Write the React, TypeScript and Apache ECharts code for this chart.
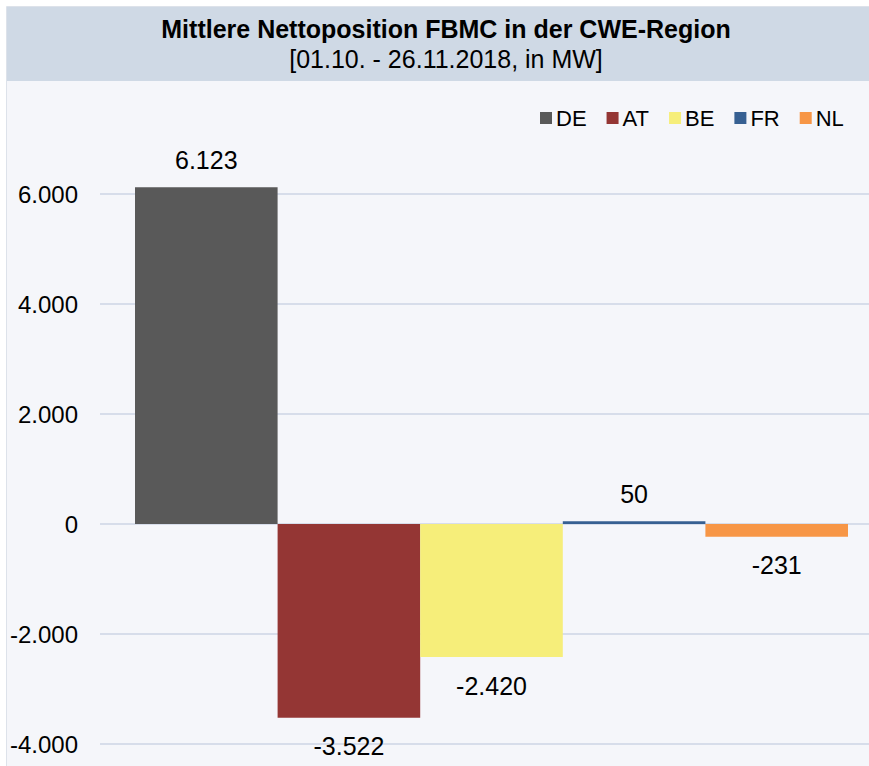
import React, { useEffect, useRef } from "react";
import * as echarts from "echarts";

const seriesNames = ["DE", "AT", "BE", "FR", "NL"];
const seriesValues = [6123, -3522, -2420, 50, -231];
const seriesColors = ["#595959", "#943634", "#f6ee7a", "#376092", "#f79646"];
const categories = [""];
const yMin = -4000;
const yMax = 6000;
const yInterval = 2000;
const titleText = "Mittlere Nettoposition FBMC in der CWE-Region";
const subtitleText = "[01.10. - 26.11.2018, in MW]";

const fmt = (v: number) => {
  const s = String(Math.abs(Math.round(v))).replace(/\B(?=(\d{3})+(?!\d))/g, ".");
  return (v < 0 ? "-" : "") + s;
};

const FONT = "'Liberation Sans', Arial, sans-serif";

export default function App() {
  const ref = useRef<HTMLDivElement>(null);
  useEffect(() => {
    if (!ref.current) return;
    const chart = echarts.init(ref.current, undefined, { renderer: "svg" });
    chart.setOption({
      animation: false,
      textStyle: { fontFamily: FONT },
      graphic: [
        {
          type: "rect",
          z: -10,
          silent: true,
          shape: { x: 6.5, y: 6.5, width: 900, height: 900 },
          style: { fill: "#f5f6fa", stroke: "#dde2ea", lineWidth: 1 },
        },
        {
          type: "rect",
          z: -9,
          silent: true,
          shape: { x: 7, y: 7, width: 900, height: 74 },
          style: { fill: "#cfd9e5" },
        },
        {
          type: "text",
          z: 10,
          x: 446,
          y: 29,
          style: {
            text: titleText,
            fontFamily: FONT,
            fontSize: 25,
            fontWeight: "bold",
            fill: "#000",
            align: "center",
            verticalAlign: "middle",
          },
        },
        {
          type: "text",
          z: 10,
          x: 446,
          y: 59,
          style: {
            text: subtitleText,
            fontFamily: FONT,
            fontSize: 25,
            fill: "#000",
            align: "center",
            verticalAlign: "middle",
          },
        },
      ],
      legend: {
        data: seriesNames,
        left: 535,
        top: 102,
        itemWidth: 12,
        itemHeight: 12,
        itemGap: 20,
        icon: "rect",
        textStyle: { fontSize: 22, color: "#000", fontFamily: FONT, padding: [0, 0, 0, -1] },
      },
      grid: { left: 100, top: 194, width: 783, height: 550, containLabel: false },
      xAxis: {
        type: "category",
        data: categories,
        show: false,
      },
      yAxis: {
        type: "value",
        min: yMin,
        max: yMax,
        interval: yInterval,
        axisLine: { show: false },
        axisTick: { show: false },
        axisLabel: {
          formatter: (v: number) => fmt(v),
          fontSize: 24,
          color: "#000",
          fontFamily: FONT,
          margin: 22,
        },
        splitLine: { lineStyle: { color: "#cdd4e4", width: 1.5 } },
      },
      series: seriesNames.map((name, i) => ({
        name,
        type: "bar",
        data: [seriesValues[i]],
        barWidth: 142.6,
        barGap: "0%",
        clip: false,
        itemStyle: { color: seriesColors[i] },
        label: {
          show: true,
          position: seriesValues[i] >= 0 ? "top" : "bottom",
          distance: seriesValues[i] >= 0 ? 15 : 16,
          formatter: (p: any) => fmt(p.value),
          fontSize: 25,
          color: "#000",
          fontFamily: FONT,
        },
      })),
    });
    return () => chart.dispose();
  }, []);
  return (
    <div
      style={{ position: "absolute", left: 0, top: 0, width: 869, height: 766, overflow: "hidden" }}
    >
      <div ref={ref} style={{ width: 900, height: 766 }} />
    </div>
  );
}
